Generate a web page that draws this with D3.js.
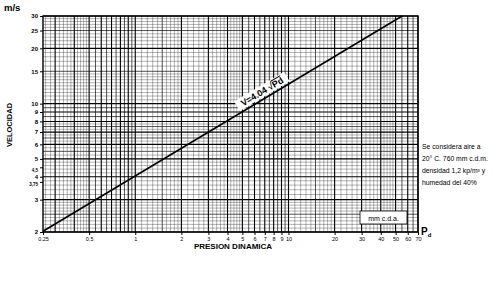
<!DOCTYPE html>
<html><head><meta charset="utf-8">
<script src="https://cdn.jsdelivr.net/npm/d3@7"></script>
<style>html,body{margin:0;padding:0;background:#fff}svg{display:block}</style>
</head><body>
<svg id="c" width="500" height="284"></svg>
<script>
// ---- data ----
const xDomain = [0.25, 70];
const yDomain = [2, 30];
const xTickLabels = [0.25, 0.5, 1, 2, 3, 4, 5, 6, 7, 8, 9, 10, 20, 30, 40, 50, 60, 70];
const yTickLabels = [2, 3, 3.75, 4, 4.5, 5, 6, 7, 8, 9, 10, 15, 20, 25, 30];
const coef = 4.04;               // V = 4.04 * sqrt(Pd)
const lineP = [0.25, 55.14];     // Pd values at the ends of the drawn line
const noteLines = ["Se considera aire a", "20° C. 760 mm c.d.m.", "densidad 1,2 kp/m³ y", "humedad del 40%"];

const svg = d3.select("#c");
const FONT = "Liberation Sans, Arial, sans-serif";
const L = 43, R = 418, T = 16, B = 232;
const x = d3.scaleLog().domain(xDomain).range([L, R]);
const y = d3.scaleLog().domain(yDomain).range([B, T]);

function gridVals(lo, hi, steps) {
  const out = [];
  for (const [a, b, s] of steps) {
    for (let v = a; v <= b + 1e-9; v += s) {
      const r = Math.round(v * 1000) / 1000;
      if (r >= lo - 1e-9 && r <= hi + 1e-9) out.push(r);
    }
  }
  return Array.from(new Set(out)).sort((p, q) => p - q);
}
function decadeSteps(d) {
  return [[1 * d, 2 * d, 0.1 * d], [2 * d, 5 * d, 0.2 * d], [5 * d, 10 * d, 0.5 * d]];
}
const xMinor = gridVals(xDomain[0], xDomain[1], [].concat(decadeSteps(0.1), decadeSteps(1), decadeSteps(10)));
const yMinor = gridVals(yDomain[0], yDomain[1], [[2, 3, 0.1], [3, 5, 0.2], [5, 8, 0.25], [8, 10, 0.5], [10, 15, 0.5], [15, 20, 1], [20, 30, 1]]);
const mant = v => v / Math.pow(10, Math.floor(Math.log10(v) + 1e-9));
const isMajor = v => { const m = mant(v); return Math.abs(m - Math.round(m)) < 1e-6; };
const isHalf = v => { const m = mant(v) * 2; return Math.abs(m - Math.round(m)) < 1e-6; };
const sw = d => isMajor(d) ? 1.1 : isHalf(d) ? 0.8 : 0.5;
const so = d => isMajor(d) ? 1 : isHalf(d) ? 0.85 : 0.6;

const g = svg.append("g");
g.selectAll("line.vx").data(xMinor).join("line")
  .attr("x1", d => x(d)).attr("x2", d => x(d)).attr("y1", T).attr("y2", B)
  .attr("stroke", "#000").attr("stroke-width", sw).attr("stroke-opacity", so);
g.selectAll("line.hy").data(yMinor).join("line")
  .attr("x1", L).attr("x2", R).attr("y1", d => y(d)).attr("y2", d => y(d))
  .attr("stroke", "#000").attr("stroke-width", sw).attr("stroke-opacity", so);

svg.append("rect").attr("x", L).attr("y", T).attr("width", R - L).attr("height", B - T)
  .attr("fill", "none").attr("stroke", "#000").attr("stroke-width", 1.4);

const fmt = d => String(d);
const xAxis = d3.axisBottom(x).tickValues(xTickLabels).tickFormat(fmt).tickSize(3).tickPadding(2);
const ax = svg.append("g").attr("transform", `translate(0,${B})`).call(xAxis);
ax.select(".domain").remove();
ax.selectAll("text").attr("font-family", FONT).attr("font-size", 5.5).attr("fill", "#000");
const yfmt = d => d === 4.5 ? "4,5" : d === 3.75 ? "3,75" : String(d);
const yAxis = d3.axisLeft(y).tickValues(yTickLabels).tickFormat(yfmt).tickSize(3).tickPadding(2);
const ay = svg.append("g").attr("transform", `translate(${L},0)`).call(yAxis);
ay.select(".domain").remove();
ay.selectAll("text").attr("font-family", FONT)
  .attr("font-size", d => (d === 4.5 || d === 3.75) ? 4.5 : 6).attr("font-weight", "bold").attr("fill", "#000")
  .attr("dy", d => d === 4.5 || d === 3.75 ? "0.9em" : "0.32em");

const lineData = lineP.map(p => ({ p, v: coef * Math.sqrt(p) }));
svg.append("path").datum(lineData)
  .attr("d", d3.line().x(d => x(d.p)).y(d => y(d.v)))
  .attr("stroke", "#000").attr("stroke-width", 1.6).attr("fill", "none");

// equation label along the line
const pl = 7.1, vl = coef * Math.sqrt(pl);
const p2 = 14, ang = Math.atan2(y(coef * Math.sqrt(p2)) - y(vl), x(p2) - x(pl)) * 180 / Math.PI;
const eq = svg.append("g").attr("transform", `translate(${x(pl)},${y(vl)}) rotate(${ang}) translate(0,-5)`);
eq.append("rect").attr("x", -29).attr("y", -8).attr("width", 58).attr("height", 11).attr("fill", "#fff");
const et = eq.append("text").attr("x", 0).attr("y", 1).attr("text-anchor", "middle").attr("font-family", FONT)
  .attr("font-size", 9).attr("font-weight", "bold").attr("fill", "#000");
et.append("tspan").text("V=4.04 √");
et.append("tspan").attr("text-decoration", "overline").text("Pd");

svg.append("text").attr("x", 4).attr("y", 11).attr("font-family", FONT)
  .attr("font-size", 9.5).attr("font-weight", "bold").text("m/s");
svg.append("text").attr("transform", `translate(12,125) rotate(-90)`).attr("text-anchor", "middle")
  .attr("font-family", FONT).attr("font-size", 7.5).attr("font-weight", "bold").text("VELOCIDAD");
svg.append("text").attr("x", 233).attr("y", 249).attr("text-anchor", "middle")
  .attr("font-family", FONT).attr("font-size", 8).attr("font-weight", "bold").text("PRESION DINAMICA");
const pd = svg.append("text").attr("x", 421).attr("y", 235).attr("font-family", FONT)
  .attr("font-size", 10).attr("font-weight", "bold");
pd.append("tspan").text("P");
pd.append("tspan").attr("font-size", 6).attr("dy", 2).text("d");

svg.append("rect").attr("x", 360).attr("y", 211).attr("width", 47).attr("height", 13).attr("fill", "#fff").attr("stroke", "#000").attr("stroke-width", 0.8);
svg.append("text").attr("x", 383.5).attr("y", 220.5).attr("text-anchor", "middle")
  .attr("font-family", FONT).attr("font-size", 7).text("mm c.d.a.");

svg.append("g").selectAll("text").data(noteLines).join("text")
  .attr("x", 422).attr("y", (d, i) => 149 + i * 12)
  .attr("font-family", FONT).attr("font-size", 6.8).attr("fill", "#000").text(d => d);
</script>
</body></html>
